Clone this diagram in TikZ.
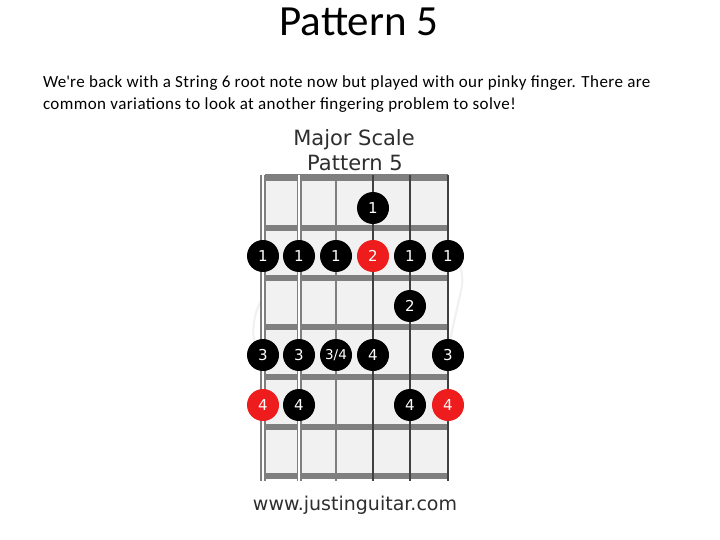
\documentclass[tikz,border=0pt]{standalone}
\usepackage{fontspec}
\setmainfont{Carlito}
\newfontfamily\webfont{DejaVu Sans}
\newfontfamily\bodyfont[LetterSpace=2.5]{Carlito}
\definecolor{rootred}{HTML}{EE1C1C}
\definecolor{fretgray}{HTML}{7F7F7F}
\definecolor{boardgray}{HTML}{F1F1F1}
\definecolor{labelgray}{HTML}{2E2E2E}

\begin{document}
\begin{tikzpicture}[x=1pt,y=-1pt,inner sep=0pt,outer sep=0pt,
  dot/.style={circle,fill=black,minimum size=32pt,text=white,font=\webfont\fontsize{15}{15}\selectfont},
  root/.style={dot,fill=rootred},
  fret/.style={line width=6pt,draw=fretgray},
  thick string/.style={line width=5.5pt,draw=fretgray},
  thin string/.style={line width=1.6pt,draw=black!75}]
  \useasboundingbox[fill=white] (0,0) rectangle (720,540);
  % heading and text
  \node[anchor=base,font=\fontsize{43}{43}\selectfont] (title) at (359,36) {Pattern 5};
  \node[anchor=base west,font=\bodyfont\fontsize{17}{17}\selectfont] (line1) at (43,88)
    {We\textquotesingle re back with a String 6 root note now but played with our pinky finger. There are};
  \node[anchor=base west,font=\bodyfont\fontsize{17}{17}\selectfont] (line2) at (43,110)
    {common variations to look at another fingering problem to solve!};
  % faint watermark
  \draw[black!6,line width=2pt,rounded corners=40pt] (240,330) -- (330,205) -- (470,250) -- (430,430) -- (300,420) -- cycle;
  % chart heading
  \node[anchor=base,text=labelgray,font=\webfont\fontsize{21}{21}\selectfont] (chart) at (354,146) {Major Scale};
  \node[anchor=base,text=labelgray,font=\webfont\fontsize{21}{21}\selectfont] (pattern) at (355,171) {Pattern 5};
  % fretboard
  \fill[boardgray] (265,176) rectangle (448,479);
  \draw[fret,line width=7pt] (265,178) -- (448,178);
  \draw[fret] (265,228) -- (448,228);
  \draw[fret] (265,278) -- (448,278);
  \draw[fret] (265,327) -- (448,327);
  \draw[fret] (265,377) -- (448,377);
  \draw[fret] (265,427) -- (448,427);
  \draw[fret] (265,476) -- (448,476);
  \draw[thick string] (263,175) -- (263,481);
  \draw[white,line width=2.5pt] (263,175) -- (263,481);
  \draw[thick string,line width=5pt] (299,175) -- (299,481);
  \draw[white,line width=2pt] (299,175) -- (299,481);
  \draw[fretgray,line width=2.6pt] (336,175) -- (336,481);
  \draw[thin string] (373,175) -- (373,481);
  \draw[thin string] (410,175) -- (410,481);
  \draw[thin string] (448,175) -- (448,481);
  % notes
  \node[dot] (F1S4) at (373,208) {1};
  \node[dot] (F2S1) at (263,256) {1};
  \node[dot] (F2S2) at (299,256) {1};
  \node[dot] (F2S3) at (336,256) {1};
  \node[root] (F2S4) at (373,256) {2};
  \node[dot] (F2S5) at (410,256) {1};
  \node[dot] (F2S6) at (448,256) {1};
  \node[dot] (F3S5) at (410,306) {2};
  \node[dot] (F4S1) at (263,355) {3};
  \node[dot] (F4S2) at (299,355) {3};
  \node[dot,font=\webfont\fontsize{13.5}{13.5}\selectfont] (F4S3) at (336,355) {3/4};
  \node[dot] (F4S4) at (373,355) {4};
  \node[dot] (F4S6) at (448,355) {3};
  \node[root] (F5S1) at (263,405) {4};
  \node[dot] (F5S2) at (299,405) {4};
  \node[dot] (F5S5) at (410,405) {4};
  \node[root] (F5S6) at (448,405) {4};
  % footer
  \node[anchor=base,text=labelgray,font=\webfont\fontsize{19}{19}\selectfont] (site) at (355,510) {www.justinguitar.com};
\end{tikzpicture}
\end{document}
